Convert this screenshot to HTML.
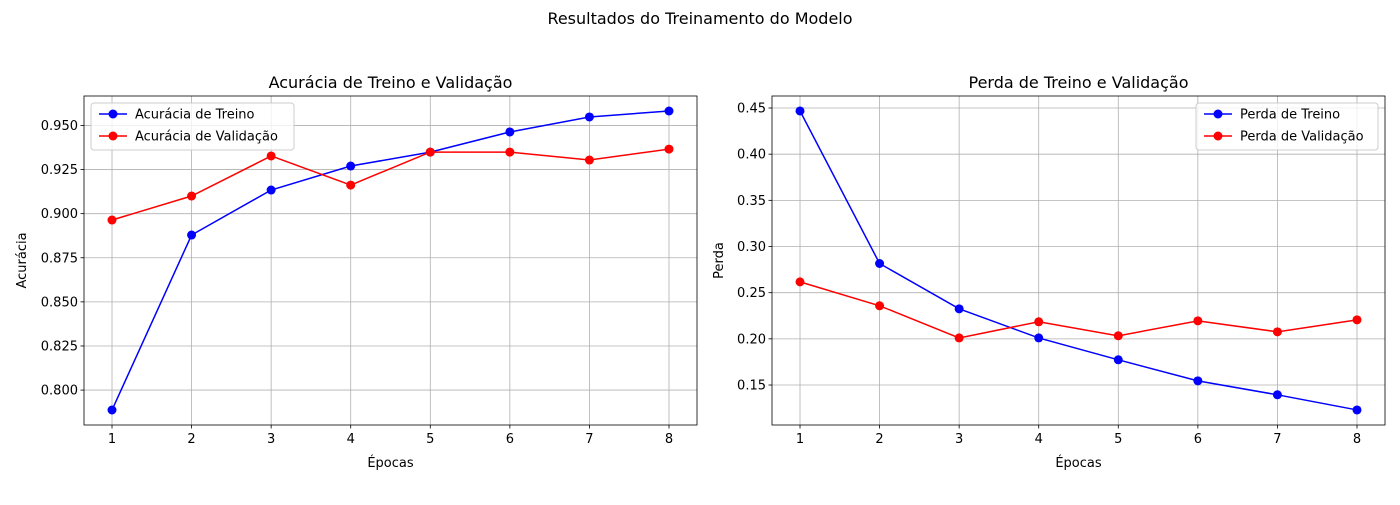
<!DOCTYPE html>
<html><head><meta charset="utf-8"><style>
body{margin:0;background:#fff;}
svg text{font-family:"DejaVu Sans","Liberation Sans",sans-serif;fill:#000;}
</style></head><body>
<svg id="c" width="1400" height="500" xmlns="http://www.w3.org/2000/svg">
<text x="700" y="24" font-size="16" text-anchor="middle">Resultados do Treinamento do Modelo</text>
</svg>
<script>
const epochs=[1,2,3,4,5,6,7,8];
const accTrain=[0.7887,0.8879,0.9134,0.9270,0.9349,0.9463,0.9548,0.9582];
const accVal=[0.8964,0.9100,0.9327,0.9162,0.9349,0.9349,0.9304,0.9366];
const lossTrain=[0.4468,0.2816,0.2325,0.2010,0.1773,0.1545,0.1394,0.1230];
const lossVal=[0.2617,0.2358,0.2010,0.2185,0.2033,0.2195,0.2076,0.2206];
const accTicks=[0.800,0.825,0.850,0.875,0.900,0.925,0.950];
const lossTicks=[0.15,0.20,0.25,0.30,0.35,0.40,0.45];
const NS="http://www.w3.org/2000/svg";
const svg=document.getElementById('c');
function el(t,a,p){const e=document.createElementNS(NS,t);for(const k in a)e.setAttribute(k,a[k]);(p||svg).appendChild(e);return e;}
function panel(o){
  const g=el('g',{});
  
  
  const L=o.x0,R=o.x1,T=96,B=425;
  const sx=v=>L+(v-0.648)/(8.352-0.648)*(R-L);
  const sy=v=>B-(v-o.ymin)/(o.ymax-o.ymin)*(B-T);
  o.ticks.forEach(t=>{
    const y=sy(t);
    const gl=el('line',{x1:L,x2:R,y1:y,y2:y,stroke:'#b0b0b0','stroke-width':0.8},g);
    
    el('line',{x1:L-3.5,x2:L,y1:y,y2:y,stroke:'#000','stroke-width':0.8},g);
    const tx=el('text',{x:L-6,y:y+4.5,'font-size':13,'text-anchor':'end'},g);
    tx.textContent=t.toFixed(o.dec);
    
  });
  epochs.forEach(e=>{
    const x=sx(e);
    const gl=el('line',{x1:x,x2:x,y1:T,y2:B,stroke:'#b0b0b0','stroke-width':0.8},g);
    
    el('line',{x1:x,x2:x,y1:B,y2:B+3.5,stroke:'#000','stroke-width':0.8},g);
    const tx=el('text',{x:x,y:B+18,'font-size':13,'text-anchor':'middle'},g);
    tx.textContent=e;
    
  });
  o.series.forEach(s=>{
    const pl=el('polyline',{points:s.d.map((v,i)=>sx(epochs[i])+','+sy(v)).join(' '),fill:'none',stroke:s.c,'stroke-width':1.5},g);
    
    s.d.forEach((v,i)=>{
      const c=el('circle',{cx:sx(epochs[i]),cy:sy(v),r:4.5,fill:s.c},g);
      
    });
  });
  el('rect',{x:L,y:T,width:R-L,height:B-T,fill:'none',stroke:'#000','stroke-width':0.8},g);
  const ti=el('text',{x:(L+R)/2,y:88,'font-size':16,'text-anchor':'middle'},g);ti.textContent=o.title;
  
  const xl=el('text',{x:(L+R)/2,y:467,'font-size':13,'text-anchor':'middle'},g);xl.textContent='Épocas';
  
  const yl=el('text',{x:0,y:0,'font-size':13,'text-anchor':'middle',transform:`translate(${o.ylx},${(T+B)/2}) rotate(-90)`},g);yl.textContent=o.ylabel;
  
  // legend
  const lg=el('g',{},g);
  
  el('rect',{x:o.lx,y:103,width:o.lw,height:47,rx:3,fill:'#fff','fill-opacity':0.8,stroke:'#ccc'},lg);
  o.series.forEach((s,i)=>{
    const y=114+i*22;
    el('line',{x1:o.lx+8,x2:o.lx+36,y1:y,y2:y,stroke:s.c,'stroke-width':1.5},lg);
    el('circle',{cx:o.lx+22,cy:y,r:4.5,fill:s.c},lg);
    const t=el('text',{x:o.lx+44,y:y+4.5,'font-size':13},lg);t.textContent=s.label;
    
  });
}
panel({name:'accuracy-chart',x0:84,x1:697,ymin:0.7802,ymax:0.9667,ticks:accTicks,dec:3,title:'Acurácia de Treino e Validação',ylabel:'Acurácia',ylx:26,lx:91,lw:203,
  series:[{d:accTrain,c:'#0000ff',n:'train-accuracy',label:'Acurácia de Treino'},{d:accVal,c:'#ff0000',n:'val-accuracy',label:'Acurácia de Validação'}]});
panel({name:'loss-chart',x0:772,x1:1385,ymin:0.1067,ymax:0.463,ticks:lossTicks,dec:2,title:'Perda de Treino e Validação',ylabel:'Perda',ylx:723,lx:1196,lw:182,
  series:[{d:lossTrain,c:'#0000ff',n:'train-loss',label:'Perda de Treino'},{d:lossVal,c:'#ff0000',n:'val-loss',label:'Perda de Validação'}]});
</script>
</body></html>
